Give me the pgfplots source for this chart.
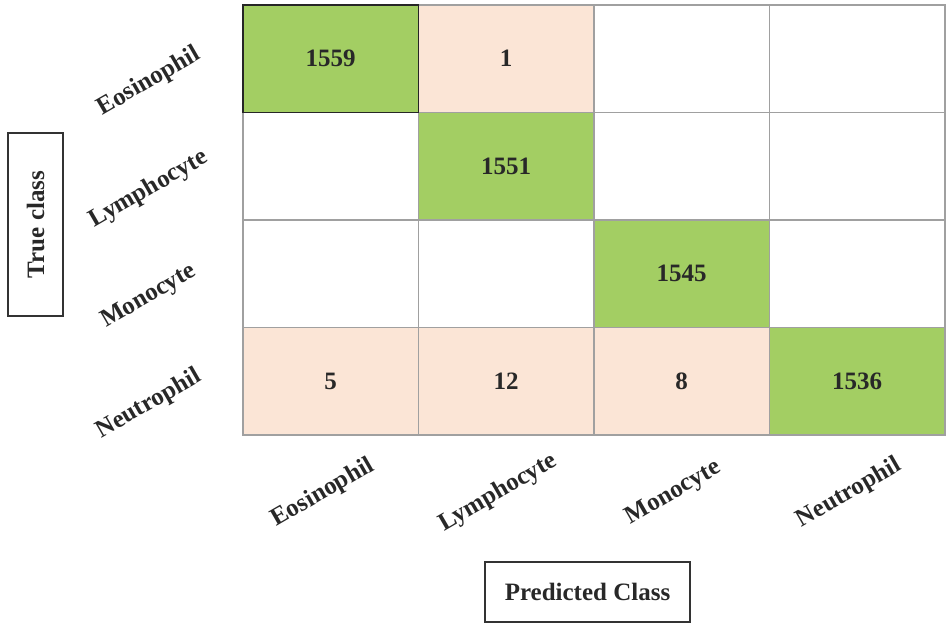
\documentclass[border=0pt]{standalone}
\usepackage{pgfplots}
\pgfplotsset{compat=1.18}
\usepackage{fontspec}
\setmainfont{Liberation Serif}

\definecolor{gridgray}{RGB}{160,160,160}
\definecolor{txt}{RGB}{40,40,40}

\newcommand{\lbl}{\fontsize{12.5}{15}\selectfont\bfseries}

\begin{document}
\begin{tikzpicture}
\useasboundingbox (-121.5pt,-97.5pt) rectangle (353.5pt,217.5pt);
\begin{axis}[
    at={(0pt,0pt)}, anchor=south west,
    scale only axis,
    width=351pt, height=215pt,
    xmin=-0.5, xmax=3.5, ymin=-0.5, ymax=3.5,
    xtick={0,1,2,3},
    xticklabels={Eosinophil,Lymphocyte,Monocyte,Neutrophil},
    ytick={0,1,2,3},
    yticklabels={Neutrophil,Monocyte,Lymphocyte,Eosinophil},
    minor xtick={0.5,1.5,2.5},
    minor ytick={0.5,1.5,2.5},
    xminorgrids, yminorgrids,
    minor grid style={gridgray, line width=0.6pt},
    major tick length=0pt, minor tick length=0pt,
    axis line style={gridgray, line width=0.6pt},
    axis on top,
    xticklabel style={font=\lbl, text=txt, xshift=-4pt, yshift=-29pt, rotate=30, anchor=center},
    yticklabel style={font=\lbl, text=txt, xshift=-47pt, yshift=-11.5pt, rotate=30, anchor=center},
    colormap={cm}{rgb255(0)=(255,255,255) rgb255(1)=(251,229,214) rgb255(2)=(163,206,99)},
    point meta min=0, point meta max=2,
]
% cell shading: 0 = empty, 1 = error, 2 = correct
\addplot[matrix plot*, mesh/cols=4, point meta=explicit] table[meta=c] {
x y c
0 0 1
1 0 1
2 0 1
3 0 2

0 1 0
1 1 0
2 1 2
3 1 0

0 2 0
1 2 2
2 2 0
3 2 0

0 3 2
1 3 1
2 3 0
3 3 0
};
% counts
\addplot[only marks, mark=none, point meta=explicit symbolic,
    nodes near coords,
    nodes near coords style={anchor=center, font=\lbl, text=txt}]
    table[meta=v] {
x y v
0 3 1559
1 3 1
1 2 1551
2 1 1545
0 0 5
1 0 12
2 0 8
3 0 1536
};
\end{axis}
% dark frame round the top-left cell
\draw[black!85, line width=0.8pt] (0pt,161.25pt) rectangle (87.75pt,215pt);
\node[draw=black!80, line width=0.8pt, minimum width=27.5pt, minimum height=91.5pt, inner sep=0pt]
    at (-103.75pt,105.25pt) {};
\node[rotate=90, font=\lbl, text=txt] at (-103.75pt,105.25pt) {True class};
\node[draw=black!80, line width=0.8pt, minimum width=102.5pt, minimum height=30pt, inner sep=0pt,
    font=\lbl, text=txt] at (172.25pt,-78.5pt) {Predicted Class};
\end{tikzpicture}
\end{document}
